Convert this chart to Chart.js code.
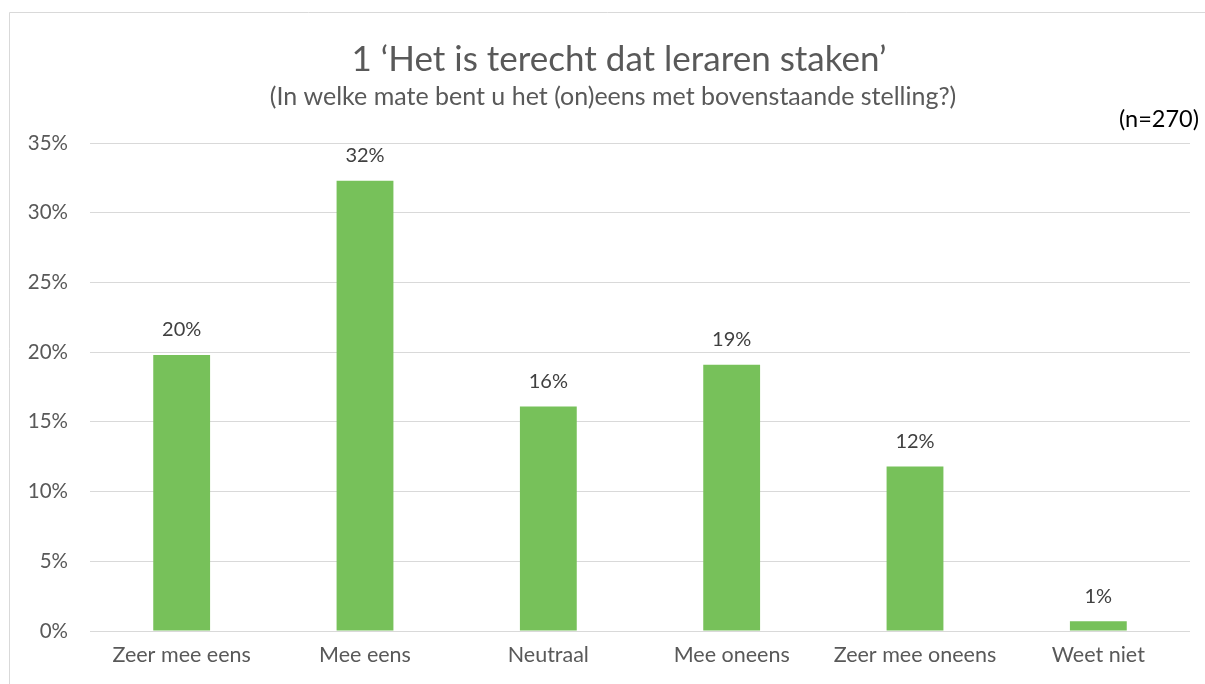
<!DOCTYPE html>
<html>
<head>
<meta charset="utf-8">
<script src="https://cdn.jsdelivr.net/npm/chart.js@4"></script>
<style>
  html, body { margin: 0; padding: 0; background: #fff; }
  #wrap { position: relative; width: 1205px; height: 684px; }
</style>
</head>
<body>
<div id="wrap"><canvas id="chart" width="1205" height="684"></canvas></div>
<script>
// Data
const categories = ['Zeer mee eens', 'Mee eens', 'Neutraal', 'Mee oneens', 'Zeer mee oneens', 'Weet niet'];
const percentages = [19.8, 32.3, 16.1, 19.1, 11.8, 0.7];
const yTicks = [0, 5, 10, 15, 20, 25, 30, 35];

const titleText = '1 \u2018Het is terecht dat leraren staken\u2019';
const subtitleText = '(In welke mate bent u het (on)eens met bovenstaande stelling?)';
const sampleText = '(n=270)';

const FONT = 'Lato, "Open Sans", sans-serif';

// Frame, title, subtitle and n-label
const decorPlugin = {
  id: 'decor',
  beforeDraw(chart) {
    const ctx = chart.ctx;
    ctx.save();
    ctx.fillStyle = '#ffffff';
    ctx.fillRect(0, 0, chart.width, chart.height);
    ctx.strokeStyle = '#d9d9d9';
    ctx.lineWidth = 1;
    ctx.beginPath();
    ctx.moveTo(9.5, chart.height);
    ctx.lineTo(9.5, 12.5);
    ctx.lineTo(chart.width, 12.5);
    ctx.stroke();

    ctx.textAlign = 'center';
    ctx.textBaseline = 'middle';
    ctx.fillStyle = '#595959';
    ctx.font = '35px ' + FONT;
    ctx.fillText(titleText, 619, 60);
    ctx.font = '25px ' + FONT;
    ctx.fillText(subtitleText, 613, 97);
    ctx.textAlign = 'right';
    ctx.fillStyle = '#000000';
    ctx.font = '23.5px ' + FONT;
    ctx.fillText(sampleText, 1199, 119);
    ctx.restore();
  }
};

// Value labels above bars
const valueLabels = {
  id: 'valueLabels',
  afterDatasetsDraw(chart) {
    const ctx = chart.ctx;
    const meta = chart.getDatasetMeta(0);
    ctx.save();
    ctx.font = '20px ' + FONT;
    ctx.fillStyle = '#404040';
    ctx.textAlign = 'center';
    ctx.textBaseline = 'middle';
    meta.data.forEach((bar, i) => {
      ctx.fillText(Math.round(percentages[i]) + '%', bar.x, bar.y - 25);
    });
    ctx.restore();
  }
};

new Chart(document.getElementById('chart').getContext('2d'), {
  type: 'bar',
  data: {
    labels: categories,
    datasets: [{
      data: percentages,
      backgroundColor: '#77c15a',
      borderWidth: 0,
      barPercentage: 0.62,
      categoryPercentage: 0.5
    }]
  },
  options: {
    responsive: false,
    animation: false,
    devicePixelRatio: 1,
    layout: { padding: { top: 143, right: 15, left: 0, bottom: 0 } },
    plugins: {
      legend: { display: false },
      tooltip: { enabled: false }
    },
    scales: {
      x: {
        grid: { display: false, drawTicks: false },
        border: { display: false },
        ticks: {
          color: '#595959',
          font: { family: FONT, size: 21.5 },
          padding: 11,
          maxRotation: 0
        },
        afterFit(axis) { axis.height = 53; }
      },
      y: {
        min: 0,
        max: 35,
        afterBuildTicks(axis) { axis.ticks = yTicks.map(v => ({ value: v })); },
        grid: { color: '#d9d9d9', lineWidth: 1, drawTicks: false },
        border: { display: false },
        ticks: {
          color: '#595959',
          font: { family: FONT, size: 20.5 },
          padding: 22,
          callback: v => v + '%'
        },
        afterFit(axis) { axis.width = 90; }
      }
    }
  },
  plugins: [decorPlugin, valueLabels]
});
</script>
</body>
</html>
